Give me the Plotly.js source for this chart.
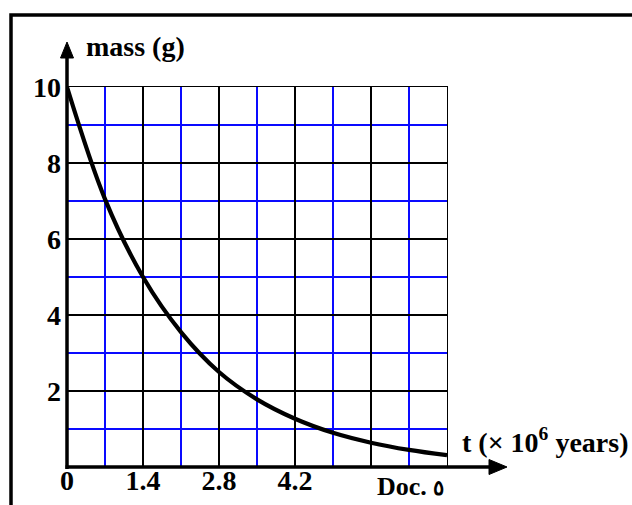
<!DOCTYPE html>
<html>
<head>
<meta charset="utf-8">
<script src="https://cdn.plot.ly/plotly-3.0.1.min.js"></script>
<style>html,body{margin:0;padding:0;background:#fff;}#chart{width:632px;height:505px;}</style>
</head>
<body>
<div id="chart"></div>
<script>
// Data
const timeMyr = [0, 0.7, 1.4, 2.1, 2.8, 3.5, 4.2, 4.9, 5.6, 6.3, 7.0];
const massG   = [10, 7.05, 5.0, 3.55, 2.5, 1.78, 1.27, 0.9, 0.64, 0.45, 0.31];
const xTickVals = [0, 1.4, 2.8, 4.2, 5.6, 7.0];
const xTickText = ['0', '1.4', '2.8', '4.2', ' ', ' '];
const xMinorVals = [0.7, 2.1, 3.5, 4.9, 6.3];
const yTickVals = [0, 2, 4, 6, 8, 10];
const yTickText = [' ', '2', '4', '6', '8', '10'];
const yMinorVals = [1, 3, 5, 7, 9];
const yAxisLabel = 'mass (g)';
const xAxisLabel = 't (× 10<sup>6</sup> years)';
const docLabel = 'Doc. <span style="font-size:21px">٥</span>';

const FONT = 'Liberation Serif, Times New Roman, DejaVu Serif, serif';
const L = 67, T = 87, W = 380, H = 380;
const px = v => (v - L) / W;
const py = v => (T + H - v) / H;
const tf = {family: FONT, size: 28, color: '#000', weight: 'bold'};
const BLUE = 'rgb(10,10,255)';

const traces = [
  {
    x: timeMyr, y: massG, type: 'scatter', mode: 'lines',
    line: {color: '#000', width: 4.2, shape: 'spline', smoothing: 1},
    hoverinfo: 'skip', showlegend: false
  }
];

const layout = {
  width: 632, height: 505,
  margin: {l: L, r: 632 - L - W, t: T, b: 505 - T - H, pad: 0},
  paper_bgcolor: '#fff', plot_bgcolor: '#fff',
  font: {family: FONT, size: 28, color: '#000'},
  xaxis: {
    range: [0, 7], tickmode: 'array', tickvals: xTickVals, ticktext: xTickText,
    showgrid: true, gridcolor: 'rgb(0,0,0)', gridwidth: 1.2,
    minor: {tickmode: 'array', tickvals: xMinorVals, showgrid: true, gridcolor: BLUE, gridwidth: 1.1},
    showline: true, linecolor: '#000', linewidth: 1.3, mirror: true,
    zeroline: false, ticks: '', ticklabelstandoff: -12,
    tickfont: tf, fixedrange: true
  },
  yaxis: {
    range: [0, 10], tickmode: 'array', tickvals: yTickVals, ticktext: yTickText,
    showgrid: true, gridcolor: 'rgb(0,0,0)', gridwidth: 1.2,
    minor: {tickmode: 'array', tickvals: yMinorVals, showgrid: true, gridcolor: BLUE, gridwidth: 1.1},
    showline: true, linecolor: '#000', linewidth: 1.3, mirror: true,
    zeroline: false, ticks: '', ticklabelstandoff: -1,
    tickfont: tf, fixedrange: true
  },
  shapes: [
    {type: 'path', xref: 'paper', yref: 'paper',
     path: `M ${px(11)} -0.3 L ${px(11)} ${py(15)} L 1.7 ${py(15)}`,
     line: {color: '#000', width: 3.5}},
    {type: 'line', xref: 'paper', yref: 'paper', x0: 0, y0: py(469), x1: 0, y1: py(56),
     line: {color: '#000', width: 3.5}},
    {type: 'path', xref: 'paper', yref: 'paper',
     path: `M ${px(60.5)} ${py(58)} L ${px(67)} ${py(42)} L ${px(73.5)} ${py(58)} Z`,
     fillcolor: '#000', line: {color: '#000', width: 1}},
    {type: 'line', xref: 'paper', yref: 'paper', x0: px(65.5), y0: 0, x1: px(491), y1: 0,
     line: {color: '#000', width: 3.5}},
    {type: 'path', xref: 'paper', yref: 'paper',
     path: `M ${px(489)} ${py(459.5)} L ${px(507)} ${py(467)} L ${px(489)} ${py(474.5)} Z`,
     fillcolor: '#000', line: {color: '#000', width: 1}}
  ],
  annotations: [
    {text: yAxisLabel, xref: 'paper', yref: 'paper', x: px(84), y: py(46),
     xanchor: 'left', yanchor: 'middle', showarrow: false, font: tf},
    {text: xAxisLabel, xref: 'paper', yref: 'paper', x: px(460), y: py(440),
     xanchor: 'left', yanchor: 'middle', showarrow: false, font: tf},
    {text: docLabel, xref: 'paper', yref: 'paper', x: px(446), y: py(486),
     xanchor: 'right', yanchor: 'middle', showarrow: false,
     font: {family: FONT, size: 26, color: '#000', weight: 'bold'}}
  ]
};

Plotly.newPlot('chart', traces, layout, {staticPlot: true, displayModeBar: false});
</script>
</body>
</html>
